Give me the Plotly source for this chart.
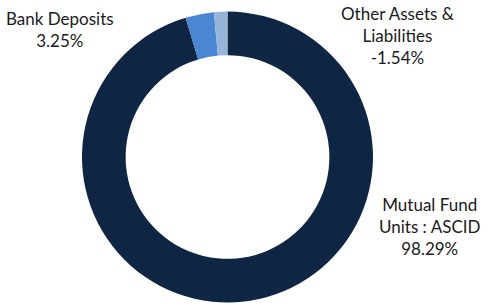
import plotly.graph_objects as go

labels = ["Mutual Fund Units : ASCID", "Bank Deposits", "Other Assets & Liabilities"]
values = [98.29, 3.25, -1.54]
label_texts = ["Mutual Fund<br>Units : ASCID", "Bank Deposits", "Other Assets &<br>Liabilities"]
colors = ["#0E2643", "#4A86D2", "#97B4D9"]

W, H = 488, 305
fig = go.Figure(go.Pie(
    labels=labels,
    values=[abs(v) for v in values],
    hole=0.70,
    sort=False,
    direction="clockwise",
    rotation=0,
    marker=dict(colors=colors, line=dict(width=0)),
    textinfo="none",
    hoverinfo="label+percent",
    domain=dict(x=[82 / W, 373 / W], y=[1 - 303 / H, 1 - 11 / H]),
    showlegend=False,
))

label_pos = [(430, 226), (60, 29), (397, 35)]
for txt, v, (px, py) in zip(label_texts, values, label_pos):
    fig.add_annotation(
        x=px / W, y=1 - py / H, xref="paper", yref="paper",
        text=f"{txt}<br>{v:.2f}%", showarrow=False,
        xanchor="center", yanchor="middle",
        font=dict(family="Lato", size=17, color="#1a1a1a"),
        align="center",
    )

fig.update_layout(
    width=W, height=H,
    margin=dict(l=0, r=0, t=0, b=0),
    paper_bgcolor="white", plot_bgcolor="white",
)
fig.write_html(
    "out.html",
    config={"displayModeBar": False},
    post_script="document.body.style.margin='0px';document.body.style.overflow='hidden';",
)
